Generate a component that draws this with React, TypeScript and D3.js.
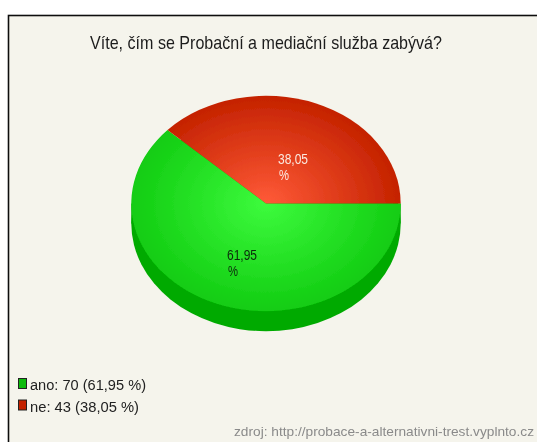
import React from "react";
import * as d3 from "d3";

const title = "Víte, čím se Probační a mediační služba zabývá?";
const categories = ["ano", "ne"];
const counts = [70, 43];
const percents = ["61,95", "38,05"];
const topColors = [["#3dfb3d", "#12cc12"], ["#ff5a38", "#c42200"]];
const legendColors = ["#11bb11", "#c42200"];
const labelColors = ["#0c2a0c", "#fbe9e0"];
const legendWidths = [116, 109];
const source = "zdroj: http://probace-a-alternativni-trest.vyplnto.cz";

const cx = 266, cy = 203.5, rx = 134.7, ry = 107.7, depth = 20;

export default function App() {
  const pie = d3.pie<number>().sort(null).startAngle(Math.PI / 2).endAngle(Math.PI / 2 + 2 * Math.PI);
  const slices = pie(counts);
  const arc = d3.arc<any>().innerRadius(0).outerRadius(rx);
  const sy = ry / rx;
  const font = "'Liberation Sans', Arial, sans-serif";
  return (
    <svg width={537} height={442} style={{ position: "fixed", left: 0, top: 0 }} fontFamily={font}>
      <defs>
        <filter id="soft" x="-5%" y="-5%" width="110%" height="110%">
          <feGaussianBlur stdDeviation="0.5" />
        </filter>
        {topColors.map((c, i) => (
          <radialGradient key={i} id={`g${i}`} gradientUnits="userSpaceOnUse" cx={0} cy={0} r={rx}>
            <stop offset="0" stopColor={c[0]} />
            <stop offset="1" stopColor={c[1]} />
          </radialGradient>
        ))}
      </defs>
      <g filter="url(#soft)">
        <rect x={0} y={0} width={537} height={442} fill="#ffffff" />
        <rect x={8.5} y={15.5} width={540} height={440} fill="#f5f4ec" stroke="#111" strokeWidth={1.6} />
        <text x={266} y={49} textAnchor="middle" fontSize={19} fill="#1c1c1c" textLength={352} lengthAdjust="spacingAndGlyphs">{title}</text>

        <g transform={`translate(${cx},${cy})`}>
          <rect x={-rx} y={0} width={2 * rx} height={depth} fill="#00aa00" />
          <ellipse cx={0} cy={depth} rx={rx} ry={ry} fill="#00aa00" />
          <g transform={`scale(1,${sy})`}>
            {slices.map((s, i) => (
              <path key={i} d={arc(s) as string} fill={`url(#g${i})`} />
            ))}
          </g>
        </g>

        <text fontSize={14} fill={labelColors[1]} textLength={30} lengthAdjust="spacingAndGlyphs" x={278} y={164}>{percents[1]}</text>
        <text fontSize={14} fill={labelColors[1]} textLength={10} lengthAdjust="spacingAndGlyphs" x={279} y={180}>%</text>
        <text fontSize={14} fill={labelColors[0]} textLength={30} lengthAdjust="spacingAndGlyphs" x={227} y={260}>{percents[0]}</text>
        <text fontSize={14} fill={labelColors[0]} textLength={10} lengthAdjust="spacingAndGlyphs" x={228} y={276}>%</text>

        {categories.map((c, i) => {
          const y = 383.5 + i * 21.5;
          return (
            <g key={c}>
              <rect x={18.5} y={y - 5} width={8} height={10} fill={legendColors[i]} stroke="#222" strokeWidth={1} />
              <text x={30} y={y + 6.5} fontSize={15.5} fill="#222" textLength={legendWidths[i]} lengthAdjust="spacingAndGlyphs">
                {`${c}: ${counts[i]} (${percents[i]} %)`}
              </text>
            </g>
          );
        })}
        <text x={534} y={436} textAnchor="end" fontSize={13.5} fill="#8a8a8a" textLength={300} lengthAdjust="spacingAndGlyphs">{source}</text>
      </g>
    </svg>
  );
}
